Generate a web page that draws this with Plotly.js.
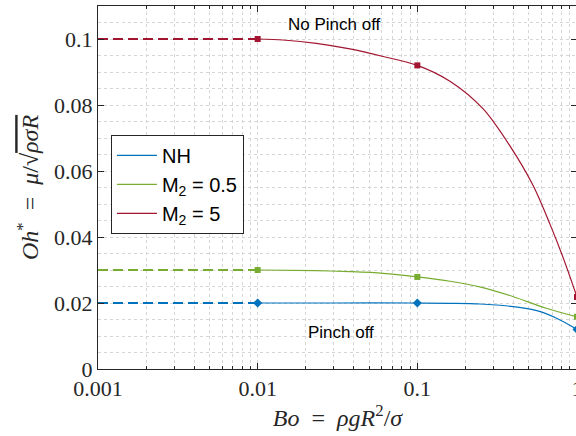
<!DOCTYPE html>
<html>
<head>
<meta charset="utf-8">
<script src="https://cdn.plot.ly/plotly-3.0.1.min.js"></script>
<style>
html,body{margin:0;padding:0;overflow:hidden;background:#fff;}
#chart{width:580px;height:436px;}
</style>
</head>
<body>
<div id="chart"></div>
<script>
// ---- data ----
const dashBo = [0.001, 0.01];
const dashNH = [0.02, 0.02];
const dashM05 = [0.03, 0.03];
const dashM5 = [0.1, 0.1];

const boNH = [0.01, 0.03, 0.1, 0.16, 0.2466, 0.399, 0.56, 0.746, 1];
const ohNH = [0.02, 0.02, 0.02, 0.0199, 0.0197, 0.0189, 0.0177, 0.0154, 0.012];

const boM05 = [0.01, 0.0233, 0.0378, 0.0611, 0.1, 0.16, 0.25, 0.4, 0.643, 1];
const ohM05 = [0.03, 0.0298, 0.0295, 0.029, 0.0279, 0.0266, 0.0248, 0.0219, 0.0184, 0.0158];

const boM5 = [0.01, 0.0144, 0.0233, 0.0378, 0.0611, 0.1, 0.16, 0.2585, 0.38, 0.532, 0.677, 0.821, 1];
const ohM5 = [0.1, 0.0997, 0.0987, 0.097, 0.0947, 0.092, 0.0872, 0.0788, 0.0676, 0.0555, 0.0439, 0.0336, 0.0218];

const markBo = [0.01, 0.1, 1];
const markNH = [0.02, 0.02, 0.012];
const markM05 = [0.03, 0.0279, 0.0158];
const markM5 = [0.1, 0.092, 0.0218];

const seriesNames = ['NH', 'M<sub>2</sub> = 0.5', 'M<sub>2</sub> = 5'];
const colors = ['#0072BD', '#77AC30', '#A2142F'];
const yTickVals = [0, 0.02, 0.04, 0.06, 0.08, 0.1];
const yTickText = ['0', '0.02', '0.04', '0.06', '0.08', '0.1'];
const xTickVals = [0.001, 0.01, 0.1, 1];
const xTickText = ['0.001', '0.01', '0.1', '1'];

const curves = [[boNH, ohNH], [boM05, ohM05], [boM5, ohM5]];
const dashes = [dashNH, dashM05, dashM5];
const marks = [markNH, markM05, markM5];
const symbols = ['diamond', 'square', 'square'];

const traces = [];
for (let i = 0; i < 3; i++) {
  traces.push({x: dashBo, y: dashes[i], mode: 'lines', showlegend: false, hoverinfo: 'skip',
    line: {color: colors[i], width: 2, dash: '10px,5px'}});
}
for (let i = 0; i < 3; i++) {
  traces.push({x: curves[i][0], y: curves[i][1], mode: 'lines', name: seriesNames[i],
    line: {color: colors[i], width: 1.2, shape: 'spline', smoothing: 0.85}});
}
for (let i = 0; i < 3; i++) {
  traces.push({x: markBo, y: marks[i], mode: 'markers', showlegend: false,
    marker: {color: colors[i], symbol: symbols[i], size: symbols[i] === 'diamond' ? 7 : 6}});
}

const gridC = '#d6d6d6';
const axisC = '#262626';
const serif = 'Liberation Serif, Times New Roman, serif';
const sans = 'Liberation Sans, Arial, sans-serif';

const layout = {
  width: 580, height: 436,
  margin: {l: 98, r: 3, t: 6, b: 67},
  paper_bgcolor: '#fff', plot_bgcolor: '#fff',
  showlegend: true,
  xaxis: {
    type: 'log', range: [-3, 0],
    tickvals: xTickVals, ticktext: xTickText,
    ticks: 'inside', ticklen: 6, tickcolor: axisC,
    showline: true, linecolor: axisC, linewidth: 1, mirror: 'allticks',
    showgrid: true, gridcolor: gridC, griddash: 'dot', gridwidth: 1,
    minor: {ticks: 'inside', ticklen: 3, tickcolor: axisC, showgrid: true, gridcolor: gridC, griddash: 'dot', dtick: 'D1'},
    zeroline: false, ticklabeloverflow: 'allow',
    tickfont: {family: serif, size: 22, color: axisC},
    title: {text: '<i>Bo</i>  =  <i>ρgR</i><sup>2</sup>/<i>σ</i>', font: {family: serif, size: 24, color: axisC}, standoff: 4},
    automargin: false
  },
  yaxis: {
    range: [0, 0.11],
    tickvals: yTickVals, ticktext: yTickText,
    ticks: 'inside', ticklen: 6, tickcolor: axisC,
    showline: true, linecolor: axisC, linewidth: 1, mirror: 'ticks',
    showgrid: true, gridcolor: gridC, griddash: 'dot', gridwidth: 1,
    minor: {dtick: 0.005, showgrid: true, gridcolor: gridC, griddash: 'dot', ticks: ''},
    zeroline: false,
    tickfont: {family: serif, size: 22, color: axisC},
    title: {text: '<i>Oh</i><sup>*</sup>  =  <i>μ</i>/√<span style="text-decoration:overline"><i>ρσR</i></span>', font: {family: serif, size: 24, color: axisC}, standoff: 8},
    automargin: false
  },
  legend: {
    x: 0.027, y: 0.645, xanchor: 'left', yanchor: 'top',
    bgcolor: '#fff', bordercolor: axisC, borderwidth: 1,
    font: {family: sans, size: 20, color: '#000'},
    itemwidth: 40, tracegroupgap: 0
  },
  annotations: [
    {x: -1.517, y: 0.1045, xref: 'x', yref: 'y', text: 'No Pinch off', showarrow: false,
     font: {family: sans, size: 17, color: '#000'}},
    {x: -1.48, y: 0.0112, xref: 'x', yref: 'y', text: 'Pinch off', showarrow: false,
     font: {family: sans, size: 17, color: '#000'}}
  ]
};

Plotly.newPlot('chart', traces, layout, {displayModeBar: false, staticPlot: true});
</script>
</body>
</html>
